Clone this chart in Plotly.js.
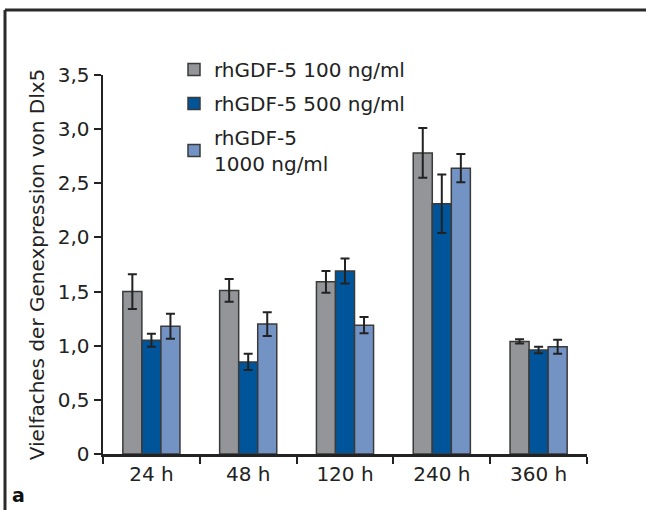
<!DOCTYPE html>
<html>
<head>
<meta charset="utf-8">
<script src="https://cdn.plot.ly/plotly-3.0.1.min.js"></script>
<style>
html,body{margin:0;padding:0;background:#fff;}
#chart{width:646px;height:510px;}
</style>
</head>
<body>
<div id="chart"></div>
<script>
var categories = ["24 h", "48 h", "120 h", "240 h", "360 h"];
var seriesNames = ["rhGDF-5 100 ng/ml", "rhGDF-5 500 ng/ml", "rhGDF-5<br>1000 ng/ml"];
var values100 = [1.50, 1.51, 1.59, 2.78, 1.04];
var err100 = [0.16, 0.105, 0.10, 0.23, 0.02];
var values500 = [1.05, 0.85, 1.69, 2.31, 0.96];
var err500 = [0.06, 0.075, 0.115, 0.27, 0.03];
var values1000 = [1.18, 1.20, 1.19, 2.64, 0.99];
var err1000 = [0.115, 0.11, 0.075, 0.13, 0.065];
var yTickVals = [0, 0.5, 1.0, 1.5, 2.0, 2.5, 3.0, 3.5];
var yTickText = ["0", "0,5", "1,0", "1,5", "2,0", "2,5", "3,0", "3,5"];
var colors = ["#939598", "#00559a", "#7393c4"];

var FONT = "DejaVu Sans, sans-serif";
var allVals = [values100, values500, values1000];
var allErr = [err100, err500, err1000];
var traces = allVals.map(function(v, i){
  return {
    type: "bar",
    name: seriesNames[i],
    legendgroup: "g" + i,
    x: categories,
    y: v,
    marker: {color: colors[i], line: {color: "#3a3a3a", width: 1.5}},
    error_y: {type: "data", array: allErr[i], visible: true, color: "#222", thickness: 2, width: 4.5}
  };
});

var L = 103, R = 587, T = 75, B = 454;
var W = R - L, H = B - T;
function px(x){ return (x - L) / W; }
function py(y){ return (B - y) / H; }

var layout = {
  width: 646, height: 510,
  margin: {l: L, r: 646 - R, t: T, b: 510 - B, pad: 0},
  paper_bgcolor: "#fff", plot_bgcolor: "#fff",
  barmode: "group", bargap: 0.41, bargroupgap: 0,
  showlegend: true,
  font: {family: FONT, size: 20, color: "#222"},
  legend: {
    x: px(174), y: py(50), xanchor: "left", yanchor: "top",
    bgcolor: "rgba(0,0,0,0)", traceorder: "grouped", tracegroupgap: 5,
    font: {family: FONT, size: 20, color: "#222"},
    itemwidth: 30
  },
  xaxis: {
    type: "category",
    showline: true, linecolor: "#222", linewidth: 2.5,
    ticks: "outside", ticklen: 7, tickwidth: 2, tickcolor: "#222",
    tickson: "boundaries",
    showgrid: false, zeroline: false,
    tickfont: {family: FONT, size: 20, color: "#222"}
  },
  yaxis: {
    range: [0, 3.5],
    tickvals: yTickVals, ticktext: yTickText,
    showline: true, linecolor: "#222", linewidth: 2.5,
    ticks: "outside", ticklen: 7, tickwidth: 2, tickcolor: "#222",
    showgrid: false, zeroline: false,
    tickfont: {family: FONT, size: 20, color: "#222"},
    title: {text: "Vielfaches der Genexpression von Dlx5", font: {family: FONT, size: 20, color: "#222"}, standoff: 8}
  },
  shapes: [
    {type: "line", xref: "paper", yref: "paper", x0: px(5), x1: px(646), y0: py(10), y1: py(10), line: {color: "#2a2a2a", width: 3}},
    {type: "line", xref: "paper", yref: "paper", x0: px(5), x1: px(5), y0: py(10), y1: py(512), line: {color: "#2a2a2a", width: 3}}
  ],
  annotations: [
    {text: "<b>a</b>", xref: "paper", yref: "paper", x: px(10), y: py(495), xanchor: "left", yanchor: "middle", showarrow: false, font: {family: FONT, size: 19, color: "#111"}}
  ]
};

Plotly.newPlot("chart", traces, layout, {displayModeBar: false, staticPlot: true});
</script>
</body>
</html>
